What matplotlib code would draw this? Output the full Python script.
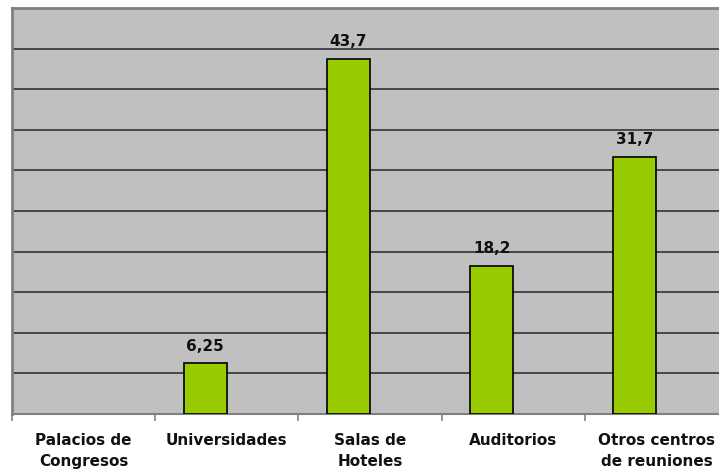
import matplotlib
matplotlib.use("Agg")
import matplotlib.pyplot as plt
import numpy as np

categories = ["Palacios de\nCongresos", "Universidades", "Salas de\nHoteles", "Auditorios", "Otros centros\nde reuniones"]
values = [np.nan, 6.25, 43.7, 18.2, 31.7]
value_labels = ["", "6,25", "43,7", "18,2", "31,7"]

W, H = 719, 472
fig = plt.figure(figsize=(W / 100, H / 100), dpi=100)
fig.patch.set_facecolor("white")
ax = fig.add_axes([12 / W, 1 - 414 / H, (728 - 12) / W, (414 - 8) / H])
ax.set_facecolor("#C0C0C0")

x = np.arange(len(categories))
ax.bar(x - 0.15, values, width=0.3, color="#99CC00", edgecolor="black", linewidth=1.2, zorder=3)

for xi, v, lab in zip(x, values, value_labels):
    if lab:
        ax.text(xi - 0.15, v + 1.2, lab, ha="center", va="bottom", fontsize=11,
                fontweight="bold", color="#111111", zorder=4)

ax.set_xlim(-0.5, len(categories) - 0.5)
ax.set_ylim(0, 50)
ax.set_yticks(np.arange(0, 51, 5))
ax.yaxis.grid(True, color="#333333", linewidth=1.2, zorder=1)
ax.tick_params(axis="y", left=False, labelleft=False)

ax.set_xticks(x)
ax.set_xticklabels(categories, fontsize=11, fontweight="bold", color="#111111", linespacing=1.45)
ax.tick_params(axis="x", which="major", length=0, pad=14)
ax.set_xticks(np.arange(-0.5, len(categories)), minor=True)
ax.tick_params(axis="x", which="minor", length=5, width=1.2, color="#808080")

for side in ["top", "left", "bottom", "right"]:
    ax.spines[side].set_color("#808080")
    ax.spines[side].set_linewidth(2)
ax.spines["bottom"].set_linewidth(1.5)

fig.savefig("out.png", dpi=100)
